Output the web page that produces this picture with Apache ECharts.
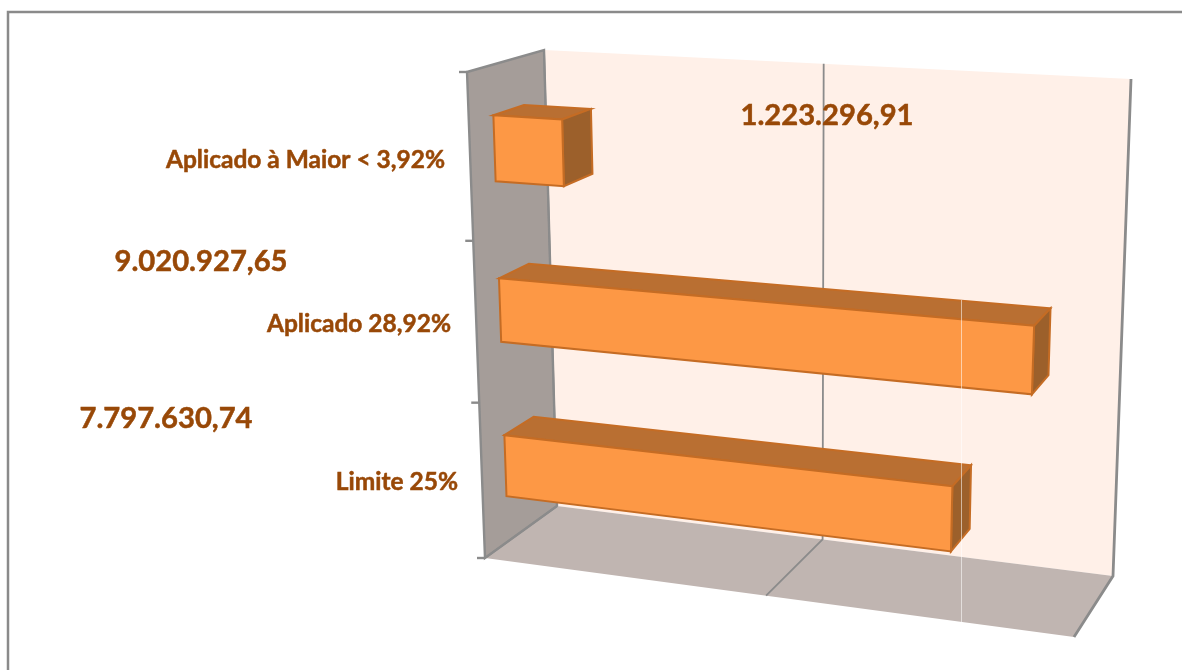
<!DOCTYPE html>
<html>
<head>
<meta charset="utf-8">
<style>html,body{margin:0;padding:0;background:#fff;overflow:hidden}#c{width:1182px;height:670px}</style>
<script src="https://cdn.jsdelivr.net/npm/echarts@6/dist/echarts.min.js"></script>
</head>
<body>
<div id="c"></div>
<script>
const categories = ['Aplicado à Maior < 3,92%', 'Aplicado 28,92%', 'Limite 25%'];
const seriesValues = [1223296.91, 9020927.65, 7797630.74];
const valueLabels = ['1.223.296,91', '9.020.927,65', '7.797.630,74'];
const gridTicks = [0, 5000000, 10000000];

const axisMax = 10000000;
const categoryAnchors = [[445, 160], [451, 324], [458, 482]];
const valueAnchors = [[827, 116], [201, 262], [166, 419]];
const frontQuad = [[467, 72], [1096, 107], [1074, 637], [485, 558]];
const backQuad = [[544, 50], [1131, 79], [1113, 576], [557, 506]];
const barDepth = [0.32, 0.72];
const barShare = 0.4;

function quadMap(q) {
  const [[x0, y0], [x1, y1], [x2, y2], [x3, y3]] = q;
  const dx1 = x1 - x2, dx2 = x3 - x2, dy1 = y1 - y2, dy2 = y3 - y2;
  const sx = x0 - x1 + x2 - x3, sy = y0 - y1 + y2 - y3;
  const den = dx1 * dy2 - dx2 * dy1;
  const g = (sx * dy2 - dx2 * sy) / den, h = (dx1 * sy - sx * dy1) / den;
  const a = x1 - x0 + g * x1, b = x3 - x0 + h * x3, d = y1 - y0 + g * y1, e = y3 - y0 + h * y3;
  return (u, v) => {
    const t = g * u + h * v + 1;
    return [(a * u + b * v + x0) / t, (d * u + e * v + y0) / t];
  };
}
const front = quadMap(frontQuad), back = quadMap(backQuad);
function project(u, v, w) {
  const f = front(u, v), b = back(u, v);
  return [f[0] + (b[0] - f[0]) * w, f[1] + (b[1] - f[1]) * w];
}
function unit(params, api, val, cat) {
  const r = params.coordSys, p = api.coord([val, cat]);
  return [(p[0] - r.x) / r.width, (p[1] - r.y) / r.height];
}
const poly = (points, fill, stroke, lw) => ({
  type: 'polygon', shape: { points }, silent: true,
  style: { fill, stroke: stroke || null, lineWidth: lw || 0 }
});
const line = (points, stroke, lw) => ({
  type: 'polyline', shape: { points }, silent: true,
  style: { fill: null, stroke, lineWidth: lw }
});
const GRAY = '#8b8b8b';

function renderWalls() {
  const P = project;
  const children = [
    poly([P(0,0,1), P(1,0,1), P(1,1,1), P(0,1,1)], '#FFF0E8'),
    poly([P(0,0,0), P(0,0,1), P(0,1,1), P(0,1,0)], '#A59D99'),
    poly([P(0,1,0), P(0,1,1), P(1,1,1), P(1,1,0)], '#C0B5B1'),
    line([P(0,1,1), P(0,0,1), P(0,0,0), P(0,1,0), P(0,1,1)], GRAY, 2.4)
  ];
  for (let k = 0; k <= categories.length; k++) {
    const p = P(0, k / categories.length, 0);
    children.push(line([[p[0] - 8, p[1]], p], GRAY, 2.4));
  }
  return { type: 'group', children };
}
function renderGrid(params, api) {
  const u = unit(params, api, api.value(0), 0)[0];
  const atEdge = u > 0.99;
  return line([project(u, 0, 1), project(u, 1, 1), project(u, 1, 0)], GRAY, atEdge ? 2.8 : 1.8);
}
function renderBar(params, api) {
  const [u, vc] = unit(params, api, api.value(0), api.value(1));
  const half = api.size([0, 1])[1] / params.coordSys.height * barShare / 2;
  const [w1, w2] = barDepth, v1 = vc - half, v2 = vc + half;
  const P = project, edge = '#C56C24';
  return {
    type: 'group', children: [
      poly([P(0,v1,w1), P(0,v1,w2), P(u,v1,w2), P(u,v1,w1)], '#B96F32', edge, 2),
      poly([P(u,v1,w1), P(u,v1,w2), P(u,v2,w2), P(u,v2,w1)], '#9C602B', edge, 2),
      poly([P(0,v1,w1), P(u,v1,w1), P(u,v2,w1), P(0,v2,w1)], '#FD9845', edge, 2)
    ]
  };
}
function renderLabels(params) {
  const i = params.dataIndex;
  const txt = (text, pos, align, size) => ({
    type: 'text', silent: true,
    style: { text, x: pos[0], y: pos[1], align, verticalAlign: 'middle',
      fill: '#984807', stroke: '#984807', lineWidth: 0.5,
      font: 'bold ' + size + 'px Lato, "Open Sans", sans-serif' }
  });
  return { type: 'group', children: [
    txt(categories[i], categoryAnchors[i], 'right', 24.5),
    txt(valueLabels[i], valueAnchors[i], 'center', 29.2)
  ]};
}
const chart = echarts.init(document.getElementById('c'), null, { renderer: 'canvas' });
const barData = seriesValues.map((v, i) => [v, i]);
chart.setOption({
  animation: false,
  backgroundColor: '#fff',
  tooltip: { show: false },
  grid: { left: 100, right: 100, top: 50, bottom: 50 },
  xAxis: { type: 'value', min: 0, max: axisMax, interval: 5000000, show: false },
  yAxis: { type: 'category', data: categories, inverse: true, show: false },
  graphic: [
    { type: 'rect', silent: true, z: 0, shape: { x: 8, y: 12, width: 1300, height: 800 },
      style: { fill: null, stroke: '#8a8a8a', lineWidth: 2.5 } },
    { type: 'line', silent: true, z: 100, shape: { x1: 961.5, y1: 300, x2: 961.5, y2: 622 },
      style: { stroke: 'rgba(255,255,255,0.55)', lineWidth: 1 } }
  ],
  series: [
    { type: 'custom', z: 1, clip: false, silent: true, data: [[0, 0]], encode: { x: 0, y: 1 }, renderItem: renderWalls },
    { type: 'custom', z: 2, clip: false, silent: true, data: gridTicks.map(v => [v, 0]), encode: { x: 0, y: 1 }, renderItem: renderGrid },
    { type: 'custom', z: 3, clip: false, silent: true, data: barData, encode: { x: 0, y: 1 }, renderItem: renderBar },
    { type: 'custom', z: 4, clip: false, silent: true, data: barData, encode: { x: 0, y: 1 }, renderItem: renderLabels }
  ]
});
</script>
</body>
</html>
